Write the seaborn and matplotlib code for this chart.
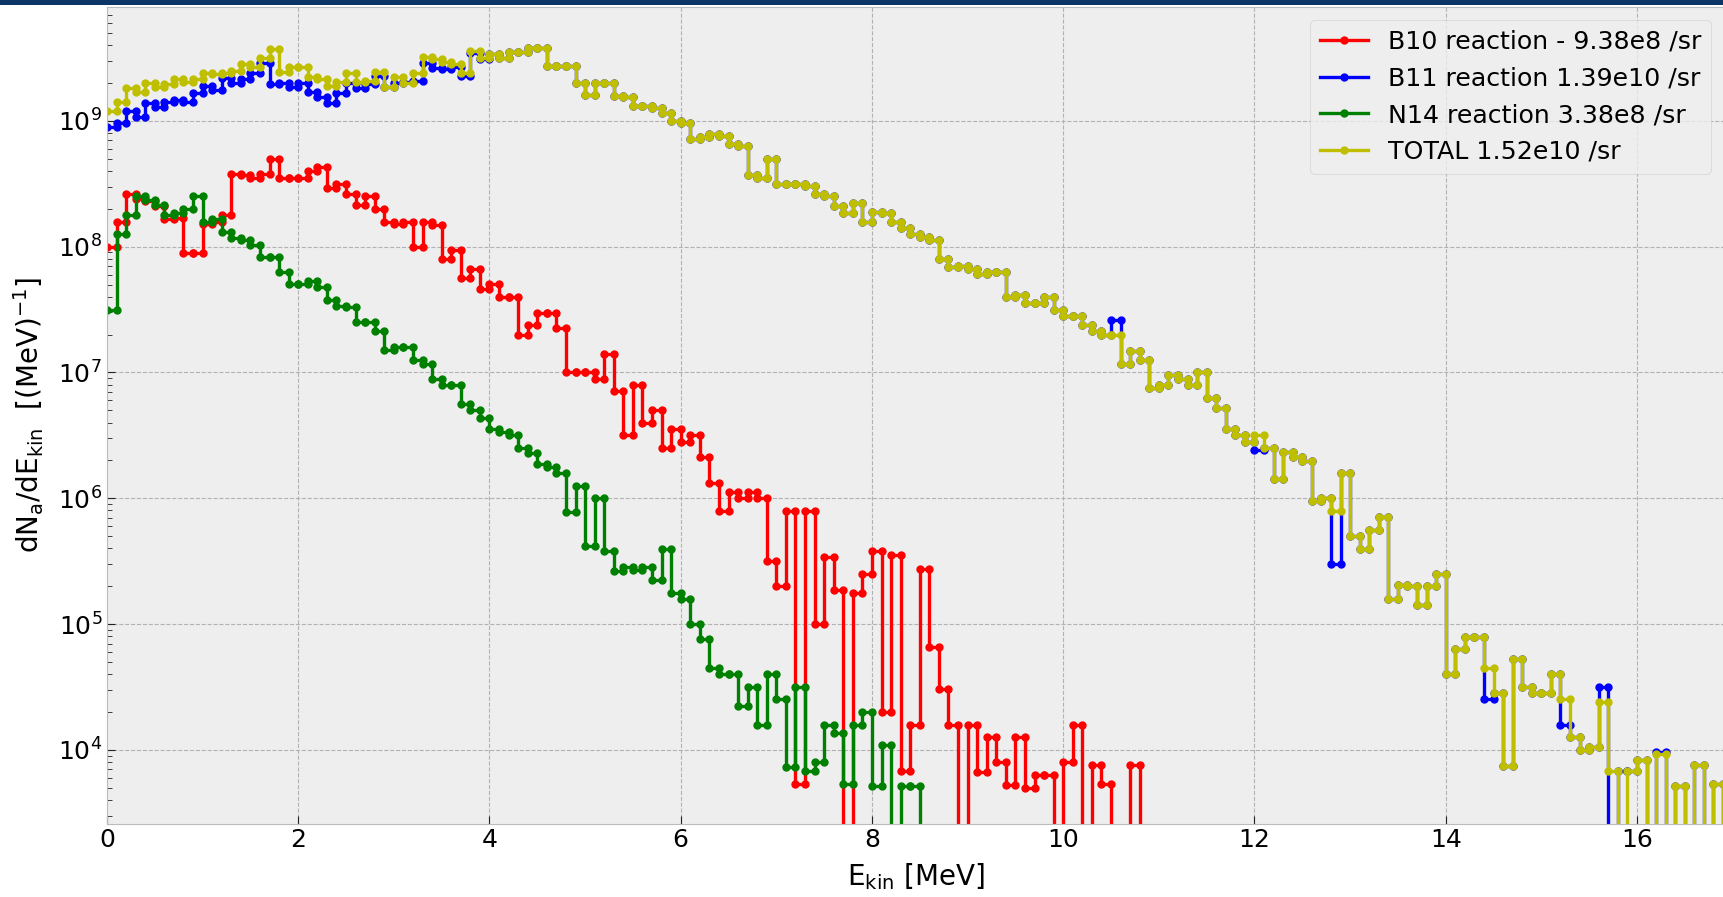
import numpy as np
import pandas as pd
import matplotlib
matplotlib.use("Agg")
import matplotlib.pyplot as plt
from matplotlib.patches import Rectangle
import seaborn as sns

# ---------------- data ----------------
# energy bin edges in MeV (0.1 MeV bins)
bin_edges = [round(0.1 * i, 1) for i in range(171)]

# log10 of dN/dE per bin ; 0 means an empty bin (falls below the axis)
b10_log10 = [
    8.00, 8.20, 8.42, 8.38, 8.36, 8.32, 8.22, 8.23, 7.95, 7.95,
    8.18, 8.20, 8.25, 8.58, 8.57, 8.55, 8.58, 8.70, 8.55, 8.55,
    8.55, 8.60, 8.63, 8.47, 8.50, 8.42, 8.33, 8.40, 8.30, 8.20,
    8.18, 8.20, 8.00, 8.20, 8.17, 7.90, 7.97, 7.75, 7.82, 7.66,
    7.70, 7.60, 7.60, 7.30, 7.38, 7.47, 7.47, 7.35, 7.00, 7.00,
    7.00, 6.95, 7.15, 6.85, 6.50, 6.90, 6.60, 6.70, 6.40, 6.55,
    6.45, 6.50, 6.33, 6.12, 5.90, 6.05, 6.00, 6.05, 6.00, 5.50,
    5.30, 5.90, 3.73, 5.90, 5.00, 5.53, 5.27, 0, 5.25, 5.40,
    5.58, 4.30, 5.55, 3.83, 4.20, 5.44, 4.82, 4.48, 4.20, 0,
    4.20, 3.82, 4.10, 3.90, 3.72, 4.10, 3.70, 3.80, 3.80, 0,
    3.90, 4.20, 0, 3.88, 3.73, 0, 0, 3.88, 0, 0,
] + [0] * 60

b11_log10 = [
    8.95, 8.98, 9.08, 9.03, 9.14, 9.11, 9.15, 9.17, 9.15, 9.22,
    9.28, 9.25, 9.34, 9.30, 9.33, 9.38, 9.46, 9.29, 9.30, 9.27,
    9.30, 9.23, 9.19, 9.14, 9.22, 9.30, 9.26, 9.29, 9.36, 9.27,
    9.30, 9.31, 9.32, 9.46, 9.42, 9.41, 9.43, 9.36, 9.54, 9.49,
    9.53, 9.50, 9.55, 9.55, 9.58, 9.58, 9.44, 9.44, 9.44, 9.30,
    9.21, 9.30, 9.30, 9.20, 9.19, 9.12, 9.12, 9.10, 9.06, 9.00,
    8.98, 8.86, 8.87, 8.90, 8.88, 8.82, 8.80, 8.57, 8.55, 8.70,
    8.50, 8.50, 8.50, 8.48, 8.42, 8.40, 8.32, 8.27, 8.35, 8.20,
    8.28, 8.27, 8.20, 8.15, 8.10, 8.08, 8.05, 7.90, 7.84, 7.85,
    7.82, 7.78, 7.80, 7.80, 7.60, 7.62, 7.55, 7.55, 7.60, 7.50,
    7.45, 7.45, 7.38, 7.33, 7.30, 7.42, 7.07, 7.17, 7.10, 6.88,
    6.90, 6.98, 6.95, 6.90, 7.00, 6.80, 6.72, 6.55, 6.50, 6.45,
    6.38, 6.40, 6.15, 6.37, 6.33, 6.30, 5.98, 6.00, 5.48, 6.20,
    5.70, 5.60, 5.75, 5.85, 5.20, 5.31, 5.30, 5.15, 5.30, 5.40,
    4.60, 4.80, 4.90, 4.90, 4.40, 4.45, 3.87, 4.72, 4.50, 4.45,
    4.45, 4.60, 4.20, 4.10, 4.00, 4.02, 4.50, 0, 3.83, 3.83,
    3.92, 0, 3.98, 0, 3.71, 0, 3.88, 0, 3.73, 0,
]

n14_log10 = [
    7.50, 8.10, 8.25, 8.40, 8.37, 8.33, 8.25, 8.27, 8.30, 8.40,
    8.20, 8.22, 8.12, 8.07, 8.05, 8.01, 7.92, 7.92, 7.80, 7.70,
    7.70, 7.73, 7.68, 7.58, 7.53, 7.52, 7.40, 7.40, 7.33, 7.18,
    7.20, 7.20, 7.10, 7.07, 6.95, 6.90, 6.90, 6.75, 6.70, 6.64,
    6.55, 6.53, 6.50, 6.40, 6.36, 6.27, 6.25, 6.20, 5.89, 6.10,
    5.62, 6.00, 5.58, 5.42, 5.45, 5.43, 5.45, 5.35, 5.60, 5.25,
    5.20, 5.00, 4.88, 4.65, 4.60, 4.60, 4.35, 4.50, 4.20, 4.60,
    4.40, 3.86, 4.50, 3.83, 3.90, 4.20, 4.13, 3.73, 4.20, 4.30,
    3.71, 4.04, 0, 3.71, 3.71,
] + [0] * 85

total_log10 = [
    9.08, 9.15, 9.26, 9.23, 9.30, 9.27, 9.29, 9.33, 9.31, 9.33,
    9.38, 9.37, 9.38, 9.40, 9.45, 9.43, 9.50, 9.57, 9.39, 9.43,
    9.43, 9.35, 9.33, 9.28, 9.31, 9.38, 9.31, 9.32, 9.39, 9.27,
    9.35, 9.30, 9.38, 9.51, 9.49, 9.47, 9.45, 9.38, 9.56, 9.50,
    9.53, 9.50, 9.55, 9.55, 9.58, 9.58, 9.44, 9.44, 9.44, 9.30,
    9.21, 9.30, 9.30, 9.20, 9.19, 9.12, 9.12, 9.10, 9.06, 9.00,
    8.98, 8.86, 8.87, 8.90, 8.88, 8.82, 8.80, 8.57, 8.55, 8.70,
    8.50, 8.50, 8.50, 8.48, 8.42, 8.40, 8.32, 8.27, 8.35, 8.20,
    8.28, 8.27, 8.20, 8.15, 8.10, 8.08, 8.05, 7.90, 7.84, 7.85,
    7.82, 7.78, 7.80, 7.80, 7.60, 7.62, 7.55, 7.55, 7.60, 7.50,
    7.45, 7.45, 7.38, 7.33, 7.30, 7.30, 7.07, 7.17, 7.10, 6.88,
    6.90, 6.98, 6.95, 6.90, 7.00, 6.80, 6.72, 6.55, 6.50, 6.45,
    6.50, 6.40, 6.15, 6.37, 6.33, 6.30, 5.98, 6.00, 5.90, 6.20,
    5.70, 5.60, 5.75, 5.85, 5.20, 5.31, 5.30, 5.15, 5.30, 5.40,
    4.60, 4.80, 4.90, 4.90, 4.65, 4.45, 3.87, 4.72, 4.50, 4.45,
    4.45, 4.60, 4.40, 4.10, 4.00, 4.02, 4.38, 3.83, 0, 3.83,
    3.92, 0, 3.97, 0, 3.71, 0, 3.88, 0, 3.73, 0,
]

series_labels = [
    "B10 reaction - 9.38e8 /sr",
    "B11 reaction 1.39e10 /sr",
    "N14 reaction 3.38e8 /sr",
    "TOTAL 1.52e10 /sr",
]
series_colors = ["#ff0000", "#0000ff", "#008000", "#bfbf00"]

# ---------------- style ----------------
plt.style.use("bmh")
plt.rcParams["font.family"] = ["DejaVu Sans"]
plt.rcParams["mathtext.fontset"] = "dejavusans"
plt.rcParams["xtick.direction"] = "in"
plt.rcParams["ytick.direction"] = "in"

W, H = 1724, 897
fig = plt.figure(figsize=(W / 100, H / 100), dpi=100, facecolor="white")
ax_left, ax_right, ax_top, ax_bottom = 107, 1724, 7, 823.5
ax = fig.add_axes([ax_left / W, 1 - ax_bottom / H,
                   (ax_right - ax_left) / W, (ax_bottom - ax_top) / H])
ax.set_facecolor("#eeeeee")

edges = np.array(bin_edges)
x_steps = np.repeat(edges, 2)[1:-1]

for vals, lab, col in zip([b10_log10, b11_log10, n14_log10, total_log10],
                          series_labels, series_colors):
    y = 10.0 ** np.repeat(np.array(vals, dtype=float), 2)
    df = pd.DataFrame({"E": x_steps, "dNdE": y})
    sns.lineplot(data=df, x="E", y="dNdE", ax=ax, sort=False, estimator=None,
                 color=col, lw=2.4, marker=".", markersize=10,
                 markeredgecolor=col, markerfacecolor=col,
                 markeredgewidth=1.0, label=lab)

ax.set_yscale("log")
ax.set_ylim(10 ** 3.414, 10 ** 9.906)
ax.set_xlim(0, 16.91)
ax.set_xticks(range(0, 17, 2))

ax.grid(True, which="major", linestyle="--", color="#b2b2b2", linewidth=0.8)
ax.set_axisbelow(True)
for s in ax.spines.values():
    s.set_color("#bcbcbc")
ax.tick_params(axis="both", which="major", labelsize=18, length=6,
               color="#222222", direction="in", top=False, right=False)
ax.tick_params(axis="y", which="minor", length=3.5, color="#222222",
               direction="in", right=False)

ax.set_xlabel(r"E$_{\mathsf{kin}}$ [MeV]", fontsize=20)
ax.set_ylabel(r"dN$_{\mathsf{a}}$/dE$_{\mathsf{kin}}$  [(MeV)$^{-1}$]", fontsize=20)
ax.xaxis.set_label_coords(0.5, -0.046)
ax.yaxis.set_label_coords(-0.038, 0.5)

leg = ax.legend(loc="upper right", fontsize=18.2, numpoints=1, frameon=True,
                fancybox=True, borderaxespad=0.5, handlelength=1.9)
leg.get_frame().set_facecolor("#eeeeee")
leg.get_frame().set_edgecolor("#cccccc")

# dark band at the very top (cropped window header)
fig.patches.append(Rectangle((0, 1 - 5 / H), 1, 5 / H, transform=fig.transFigure,
                             facecolor="#0b3566", edgecolor="none", zorder=10))

fig.savefig("out.png", dpi=100, facecolor="white")
